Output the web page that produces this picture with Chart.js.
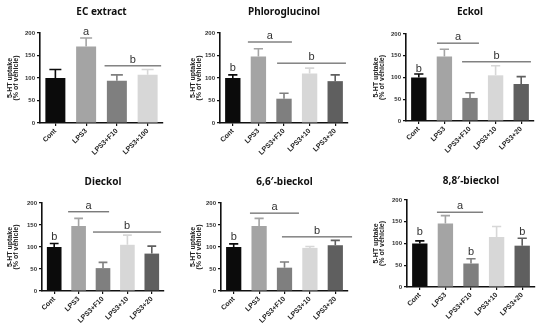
<!DOCTYPE html>
<html>
<head>
<meta charset="utf-8">
<script src="https://cdn.jsdelivr.net/npm/chart.js@4.4.1/dist/chart.umd.min.js"></script>
<style>
  body { margin: 0; background: #fff; width: 550px; height: 328px; position: relative; overflow: hidden; }
  canvas { position: absolute; }
</style>
</head>
<body>
<canvas id="c1"></canvas>
<canvas id="c2"></canvas>
<canvas id="c3"></canvas>
<canvas id="c4"></canvas>
<canvas id="c5"></canvas>
<canvas id="c6"></canvas>
<script>
// groups on the x axis
const groupsEC = ['Cont', 'LPS3', 'LPS3+F10', 'LPS3+100'];
const groups = ['Cont', 'LPS3', 'LPS3+F10', 'LPS3+10', 'LPS3+20'];
const yTicks = [0, 50, 100, 150, 200];

// 5-HT uptake (% of vehicle), mean and upper error (SD)
const ecMean = [100, 170, 94, 107];
const ecErr = [19, 19, 13, 12];
const phloroMean = [100, 148, 54, 110, 93];
const phloroErr = [7, 17, 12, 12, 14];
const eckolMean = [100, 148, 53, 105, 85];
const eckolErr = [8, 17, 12, 22, 17];
const dieckolMean = [100, 148, 52, 105, 85];
const dieckolErr = [8, 17, 13, 22, 17];
const bi66Mean = [100, 148, 53, 98, 104];
const bi66Err = [7, 17, 13, 3, 11];
const bi88Mean = [100, 146, 54, 115, 95];
const bi88Err = [6, 18, 11, 24, 17];

// significance marks: [from group, to group, y value, letter]  (from == to -> letter only)
const ecSig = [[1, 1, 202, 'a'], [1.6, 3.44, 127, 'b']];
const phloroSig = [[0, 0, 122, 'b'], [0.59, 2.31, 180, 'a'], [1.73, 4.42, 133, 'b']];
const eckolSig = [[0, 0, 120, 'b'], [0.71, 2.35, 179, 'a'], [1.69, 4.38, 136, 'b']];
const dieckolSig = [[0, 0, 123, 'b'], [0.57, 2.25, 180, 'a'], [1.59, 4.38, 134, 'b']];
const bi66Sig = [[0, 0, 123, 'b'], [0.64, 2.57, 177, 'a'], [1.9, 4.66, 123, 'b']];
const bi88Sig = [[0, 0, 126, 'b'], [0.67, 2.47, 172, 'a'], [2, 2, 80, 'b'], [4, 4, 126, 'b']];

const barColors = ['#0b0b0b', '#a4a4a4', '#7f7f7f', '#d7d7d7', '#5f5f5f'];

// canvas box [left, top, w, h] and plot area [left, right, top, bottom] inside it
const panels = [
  { id: 'c1', title: 'EC extract', labels: groupsEC, mean: ecMean, err: ecErr, sig: ecSig, box: [0, 0, 183, 164], area: [40, 163, 33, 123], bar: 0.65, titleGap: 21 },
  { id: 'c2', title: 'Phloroglucinol', labels: groups, mean: phloroMean, err: phloroErr, sig: phloroSig, box: [183, 0, 183, 164], area: [37, 165, 33, 123], bar: 0.6, titleGap: 21 },
  { id: 'c3', title: 'Eckol', labels: groups, mean: eckolMean, err: eckolErr, sig: eckolSig, box: [366, 0, 184, 164], area: [40, 168, 34, 121], bar: 0.6, titleGap: 22 },
  { id: 'c4', title: 'Dieckol', labels: groups, mean: dieckolMean, err: dieckolErr, sig: dieckolSig, box: [0, 164, 183, 164], area: [42, 164, 39, 127], bar: 0.6, titleGap: 21 },
  { id: 'c5', title: '6,6\u2032-bieckol', labels: groups, mean: bi66Mean, err: bi66Err, sig: bi66Sig, box: [183, 164, 183, 164], area: [38, 165, 39, 127], bar: 0.6, titleGap: 21 },
  { id: 'c6', title: '8,8\u2032-bieckol', labels: groups, mean: bi88Mean, err: bi88Err, sig: bi88Sig, box: [366, 164, 184, 164], area: [41, 169, 36, 123], bar: 0.6, titleGap: 19 }
];

// error bars, significance letters/lines and panel title
const annotate = {
  id: 'annotate',
  afterDatasetsDraw(chart, args, opts) {
    const p = opts.panel;
    const ctx = chart.ctx;
    const xs = chart.scales.x, ys = chart.scales.y;
    const meta = chart.getDatasetMeta(0);
    ctx.save();
    meta.data.forEach((bar, i) => {
      const base = ys.getPixelForValue(p.mean[i]);
      const top = ys.getPixelForValue(p.mean[i] + p.err[i]);
      const half = bar.width * 0.3;
      ctx.strokeStyle = barColors[i];
      ctx.lineWidth = 1.6;
      ctx.beginPath();
      ctx.moveTo(bar.x, base);
      ctx.lineTo(bar.x, top);
      ctx.moveTo(bar.x - half, top);
      ctx.lineTo(bar.x + half, top);
      ctx.stroke();
    });

    const x0 = xs.getPixelForValue(0);
    const step = xs.getPixelForValue(1) - x0;
    ctx.fillStyle = '#333';
    ctx.strokeStyle = '#444';
    ctx.lineWidth = 1;
    ctx.font = '11px "Liberation Sans", Arial, sans-serif';
    ctx.textAlign = 'center';
    ctx.textBaseline = 'middle';
    p.sig.forEach(([a, b, v, letter]) => {
      const py = ys.getPixelForValue(v);
      const xa = x0 + a * step, xb = x0 + b * step;
      if (a === b) {
        ctx.fillText(letter, xa, py);
      } else {
        ctx.beginPath();
        ctx.moveTo(xa, py);
        ctx.lineTo(xb, py);
        ctx.stroke();
        ctx.fillText(letter, (xa + xb) / 2, py - 6);
      }
    });

    const area = chart.chartArea;
    ctx.fillStyle = '#111';
    ctx.font = 'bold 10px "Noto Sans", sans-serif';
    ctx.fillText(p.title, (area.left + area.right) / 2, area.top - p.titleGap);
    ctx.restore();
  }
};

panels.forEach(p => {
  const cv = document.getElementById(p.id);
  const [bl, bt, bw, bh] = p.box;
  const [al, ar, at, ab] = p.area;
  cv.width = bw; cv.height = bh;
  cv.style.left = bl + 'px'; cv.style.top = bt + 'px';
  cv.style.width = bw + 'px'; cv.style.height = bh + 'px';

  new Chart(cv.getContext('2d'), {
    type: 'bar',
    data: {
      labels: p.labels,
      datasets: [{
        data: p.mean,
        backgroundColor: barColors.slice(0, p.mean.length),
        barPercentage: p.bar,
        categoryPercentage: 1
      }]
    },
    options: {
      responsive: false,
      animation: false,
      devicePixelRatio: 1,
      layout: { padding: { left: 0, top: at, right: bw - ar, bottom: 0 } },
      plugins: {
        legend: { display: false },
        tooltip: { enabled: false },
        annotate: { panel: p }
      },
      scales: {
        x: {
          afterFit: s => { s.height = bh - ab; },
          grid: { drawOnChartArea: false, offset: false, tickLength: 3, color: '#111', lineWidth: 1.2 },
          border: { color: '#111', width: 1.6 },
          ticks: { minRotation: 45, maxRotation: 45, autoSkip: false, padding: 1, color: '#222', font: { size: 7, weight: 'bold', family: '"Liberation Sans", Arial, sans-serif' } }
        },
        y: {
          min: yTicks[0],
          max: yTicks[yTicks.length - 1],
          afterFit: s => { s.width = al; },
          afterBuildTicks: s => { s.ticks = yTicks.map(v => ({ value: v })); },
          grid: { drawOnChartArea: false, tickLength: 3, color: '#111', lineWidth: 1.2 },
          border: { color: '#111', width: 1.6 },
          ticks: { padding: 2, color: '#333', font: { size: 6, weight: 'bold', family: '"Liberation Sans", Arial, sans-serif' } },
          title: {
            display: true,
            text: ['5-HT uptake', '(% of vehicle)'],
            color: '#222',
            padding: { top: 7, bottom: 0 },
            font: { size: 7, weight: 'bold', lineHeight: 0.9, family: '"Liberation Sans", Arial, sans-serif' }
          }
        }
      }
    },
    plugins: [annotate]
  });
});
</script>
</body>
</html>
